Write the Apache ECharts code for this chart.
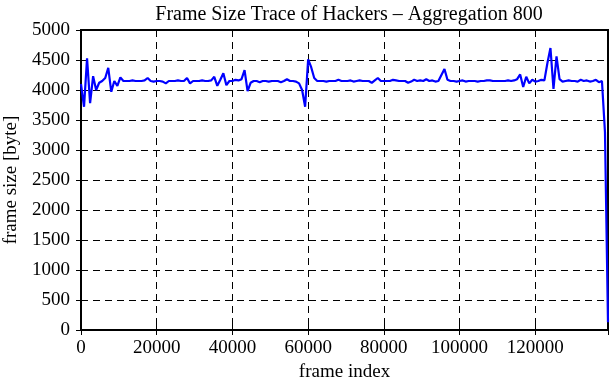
<!DOCTYPE html>
<html>
<head>
<meta charset="utf-8">
<script src="https://cdn.jsdelivr.net/npm/echarts@6/dist/echarts.min.js"></script>
<style>
  html, body { margin: 0; padding: 0; background: #fff; }
  #main { width: 611px; height: 380px; }
</style>
</head>
<body>
<div id="main"></div>
<script>
// aggregated frame sizes, one value per 800 frames
var aggregation = 800;
var frameSizes = [
  4100, 3720, 4530, 3780, 4230, 4000, 4120, 4150, 4200, 4370,
  3970, 4150, 4070, 4210, 4150, 4150, 4150, 4160, 4150, 4150,
  4150, 4160, 4200, 4150, 4140, 4150, 4150, 4140, 4110, 4150,
  4150, 4150, 4160, 4150, 4150, 4200, 4110, 4150, 4150, 4150,
  4160, 4150, 4150, 4160, 4220, 4070, 4170, 4280, 4080, 4150,
  4150, 4170, 4160, 4180, 4330, 3980, 4120, 4150, 4150, 4130,
  4150, 4150, 4140, 4150, 4150, 4150, 4130, 4150, 4180, 4150,
  4150, 4140, 4110, 4000, 3720, 4510, 4380, 4200, 4150, 4150,
  4150, 4140, 4150, 4150, 4150, 4170, 4150, 4150, 4150, 4160,
  4140, 4150, 4160, 4150, 4150, 4150, 4120, 4160, 4200, 4150,
  4150, 4150, 4150, 4170, 4160, 4150, 4150, 4150, 4120, 4140,
  4170, 4150, 4160, 4150, 4180, 4150, 4160, 4140, 4150, 4250,
  4350, 4170, 4150, 4150, 4140, 4150, 4160, 4140, 4150, 4150,
  4150, 4140, 4150, 4150, 4160, 4160, 4150, 4150, 4150, 4150,
  4150, 4160, 4150, 4160, 4180, 4260, 4050, 4220, 4110, 4170,
  4140, 4150, 4170, 4160, 4450, 4700, 4020, 4560, 4180, 4140,
  4150, 4160, 4150, 4150, 4140, 4170, 4150, 4160, 4140, 4150,
  4170, 4130, 4150, 3300, 130
];
var xTicks = [0, 20000, 40000, 60000, 80000, 100000, 120000];
var yTicks = [0, 500, 1000, 1500, 2000, 2500, 3000, 3500, 4000, 4500, 5000];

var font = '"Liberation Serif", "DejaVu Serif", serif';
var fs = 19;
var points = frameSizes.map(function (v, i) { return [i * aggregation, v]; });
var xMax = (frameSizes.length - 1) * aggregation;

var myChart = echarts.init(document.getElementById('main'));

var dashed = { show: true, lineStyle: { color: '#000', type: [7, 5], width: 1 } };
var tick = { show: true, inside: true, length: 5, lineStyle: { color: '#000', width: 1 } };
var axLine = { show: true, lineStyle: { color: '#000', width: 2 } };

var option = {
  animation: false,
  title: {
    text: 'Frame Size Trace of Hackers \u2013 Aggregation 800',
    left: 344, top: 0, textAlign: 'center',
    textStyle: { fontFamily: font, fontSize: 20, fontWeight: 'normal', color: '#000' }
  },
  grid: {
    left: 81, right: 3, top: 30, bottom: 50,
    outerBoundsMode: 'none', containLabel: false,
    show: true, borderColor: '#000', borderWidth: 2, backgroundColor: 'transparent'
  },
  xAxis: [{
    type: 'value', min: 0, max: xMax, interval: 20000,
    name: 'frame index', nameLocation: 'middle', nameGap: 29,
    nameTextStyle: { fontFamily: font, fontSize: fs, color: '#000' },
    axisLine: axLine, axisTick: tick,
    axisLabel: {
      fontFamily: font, fontSize: fs, color: '#000', margin: 9,
      showMaxLabel: false,
      formatter: function (v) { return xTicks.indexOf(v) >= 0 ? String(v) : ''; }
    },
    splitLine: dashed
  }, {
    type: 'value', min: 0, max: xMax, interval: 20000, position: 'top',
    axisLine: axLine, axisTick: tick,
    axisLabel: { show: false }, splitLine: { show: false }
  }],
  yAxis: [{
    type: 'value', min: 0, max: 5000, interval: 500,
    name: 'frame size [byte]', nameLocation: 'middle', nameGap: 60,
    nameTextStyle: { fontFamily: font, fontSize: fs, color: '#000' },
    axisLine: axLine, axisTick: tick,
    axisLabel: {
      fontFamily: font, fontSize: fs, color: '#000', margin: 11,
      formatter: function (v) { return yTicks.indexOf(v) >= 0 ? String(v) : ''; }
    },
    splitLine: dashed
  }, {
    type: 'value', min: 0, max: 5000, interval: 500, position: 'right',
    axisLine: axLine, axisTick: tick,
    axisLabel: { show: false }, splitLine: { show: false }
  }],
  series: [{
    type: 'line',
    data: points,
    showSymbol: false,
    symbol: 'none',
    clip: true,
    lineStyle: { color: '#0000ff', width: 2.2 },
    itemStyle: { color: '#0000ff' }
  }]
};

myChart.setOption(option);
</script>
</body>
</html>
